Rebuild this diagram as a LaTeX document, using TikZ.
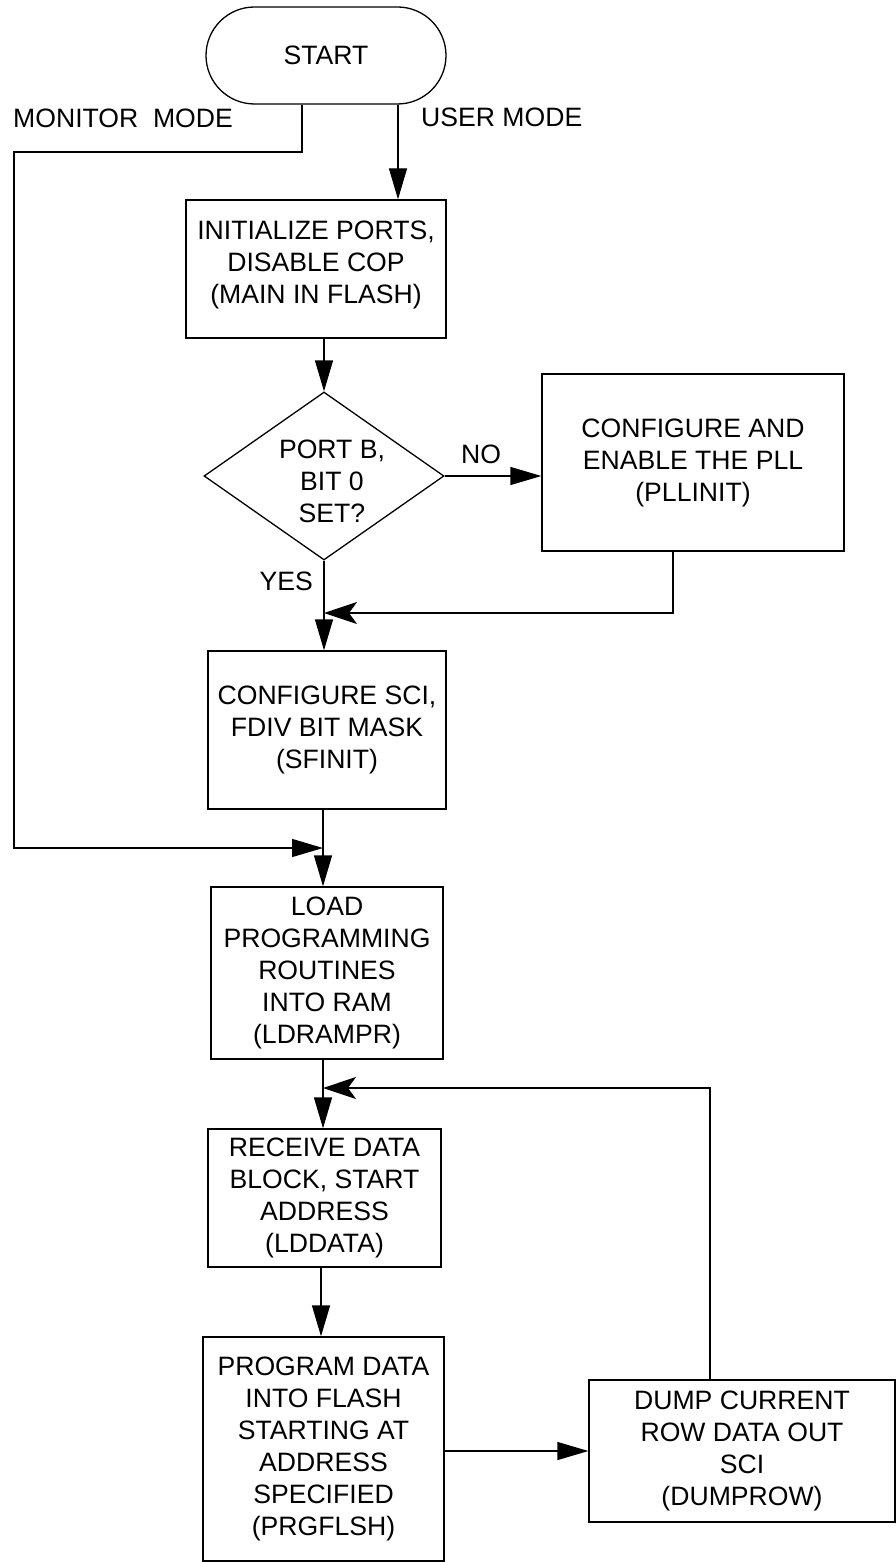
\documentclass[tikz,border=0pt]{standalone}
\usepackage{fontspec}
\setmainfont{Liberation Sans}
\usetikzlibrary{arrows.meta,shapes.geometric}
\begin{document}
\begin{tikzpicture}[x=1pt,y=-1pt,
  every node/.style={font=\fontsize{26.6}{32}\selectfont},
  line/.style={line width=1.3pt},
  proc/.style={draw, line width=1.3pt, rectangle, inner sep=0pt, align=center},
  arr/.style={line, -{Triangle[length=31pt,width=18pt]}},
  backarr/.style={line, -{Stealth[length=33pt,width=22pt,inset=8pt]}},
  lbl/.style={inner sep=0pt}
]
\useasboundingbox (0,0) rectangle (896,1562);

% process steps
\node[proc, rounded corners=48.5pt, minimum width=240pt, minimum height=97pt] (start) at (326,55.5) {START};
\node[proc, minimum width=260pt, minimum height=138pt] (init) at (316,269) {INITIALIZE PORTS,\\DISABLE COP\\(MAIN IN FLASH)\rule[-13.6pt]{0pt}{0pt}};
\node[draw, line, diamond, aspect=1.43, minimum width=240pt, minimum height=168pt, inner sep=0pt] (dec) at (324,476) {};
\node[lbl, align=center] (dectext) at (332,481) {PORT B,\\BIT 0\\SET?};
\node[proc, minimum width=302pt, minimum height=177pt] (pll) at (693,462.5) {CONFIGURE AND\\ENABLE THE PLL\\(PLLINIT)};
\node[proc, minimum width=238pt, minimum height=158pt] (sci) at (327,730) {CONFIGURE SCI,\\FDIV BIT MASK\\(SFINIT)};
\node[proc, minimum width=232pt, minimum height=172pt] (load) at (327,973) {LOAD\\PROGRAMMING\\ROUTINES\\INTO RAM\\(LDRAMPR)};
\node[proc, minimum width=233pt, minimum height=138pt] (recv) at (324.5,1198) {RECEIVE DATA\\BLOCK, START\\ADDRESS\\(LDDATA)};
\node[proc, minimum width=241pt, minimum height=224pt] (prog) at (323.5,1449) {PROGRAM DATA\\INTO FLASH\\STARTING AT\\ADDRESS\\SPECIFIED\\(PRGFLSH)};
\node[proc, minimum width=306pt, minimum height=142pt] (dump) at (742,1451) {DUMP CURRENT\\ROW DATA OUT\\SCI\\(DUMPROW)};

% branch labels
\node[lbl, anchor=base west] (lmon) at (13,128) {MONITOR~~MODE};
\node[lbl, anchor=base west] (luser) at (421,127) {USER MODE};
\node[lbl, anchor=base west] (lno) at (461,463) {NO};
\node[lbl, anchor=base east] (lyes) at (313,590) {YES};

% routing points
\coordinate (cuser) at (398,0);
\coordinate (cmon) at (302,0);
\coordinate (cleft) at (14,152);
\coordinate (jmon) at (323,848);
\coordinate (cpll) at (673,0);
\coordinate (jpll) at (324,613);
\coordinate (cdump) at (710,0);
\coordinate (jdump) at (323,1088);
\coordinate (cprog) at (321,0);

% connectors
\draw[arr] (start.south -| cuser) -- (init.north -| cuser);
\draw[arr] (start.south -| cmon) |- (cleft) |- (jmon);
\draw[arr] (init.south -| dec.north) -- (dec.north);
\draw[arr] (dec.east) -- (pll.west |- dec.east);
\draw[backarr] (pll.south -| cpll) |- (jpll);
\draw[arr] (dec.south) -- (sci.north -| dec.south);
\draw[arr] (sci.south -| jmon) -- (load.north -| jmon);
\draw[arr] (load.south -| jdump) -- (recv.north -| jdump);
\draw[backarr] (dump.north -| cdump) |- (jdump);
\draw[arr] (recv.south -| cprog) -- (prog.north -| cprog);
\draw[arr] (prog.east |- dump.west) -- (dump.west);
\end{tikzpicture}
\end{document}
